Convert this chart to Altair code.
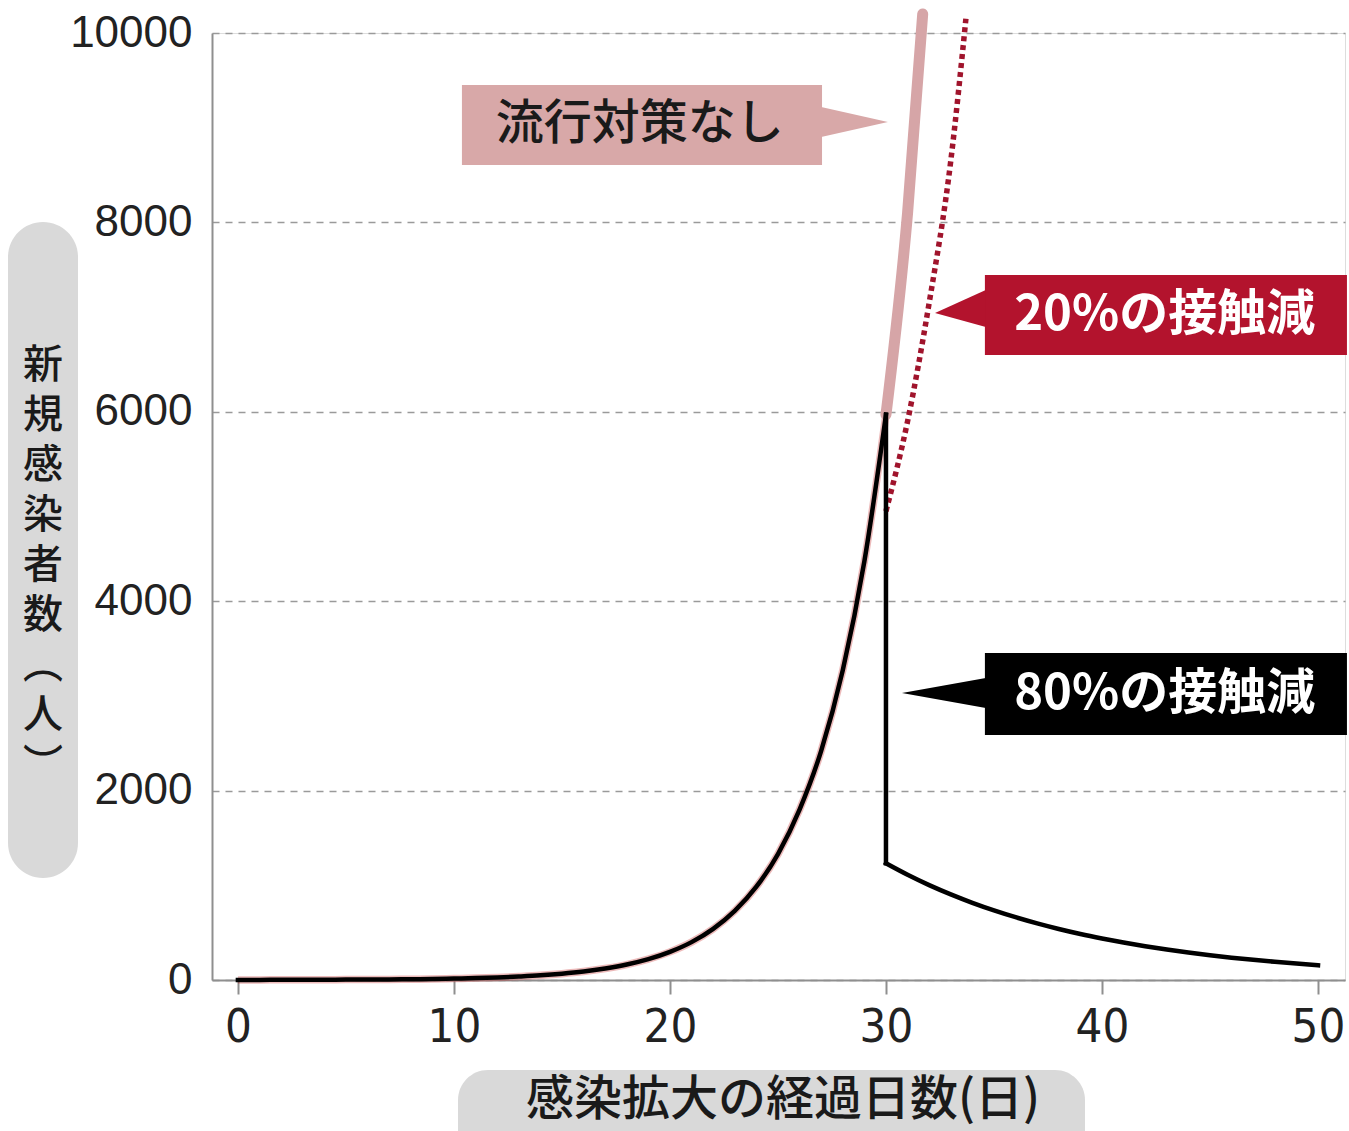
import altair as alt
import pandas as pd

# ---------------- data ----------------
days_rise = list(range(0, 31))
cases_rise = [1, 1, 2, 2, 3, 4, 5, 6, 8, 11, 15, 20, 27, 37, 49, 66, 89, 121, 163,
              220, 297, 400, 540, 730, 985, 1330, 1800, 2420, 3270, 4420, 5970]
days_80 = list(range(30, 51))
cases_80 = [1232, 1111, 1002, 904, 815, 735, 663, 598, 539, 486, 439, 396, 357,
            322, 290, 262, 236, 213, 192, 173, 156]
days_none = [30, 31, 31.7]
cases_none = [5970, 8100, 10200]
days_20 = [30, 31, 32, 33, 33.7]
cases_20 = [4950, 5900, 7150, 8650, 10150]

x_ticks = [0, 10, 20, 30, 40, 50]
y_ticks = [0, 2000, 4000, 6000, 8000, 10000]

label_none = "流行対策なし"
label_20 = "20%の接触減"
label_80 = "80%の接触減"
x_title = "感染拡大の経過日数(日)"
y_title = "新\n規\n感\n染\n者\n数\n︵\n人\n︶"

# ---------------- tables ----------------
df_rise = pd.DataFrame({"day": days_rise, "cases": cases_rise})
df_80 = pd.DataFrame({"day": days_80, "cases": cases_80})
df_drop = pd.DataFrame({"day": [days_80[0]], "top": [cases_rise[-1]], "bottom": [cases_80[0]]})
df_none = pd.DataFrame({"day": days_none, "cases": cases_none})
df_20 = pd.DataFrame({"day": days_20, "cases": cases_20})

# annotation layout (data coordinates)
boxes = pd.DataFrame({
    "x": [10.37, 34.58, 34.58], "x2": [27.04, 51.34, 51.34],
    "y": [9451, 7445, 3453], "y2": [8606, 6600, 2587],
    "c": ["#d8a8a8", "#b3132d", "#000000"],
})
arrows = pd.DataFrame({
    "g": ["a", "a", "b", "b", "c", "c"],
    "x": [27.0, 30.09, 32.27, 34.62, 30.74, 34.62],
    "y": [9219, 9060, 7043, 7286, 3031, 3189],
    "y2": [8902, 9060, 7043, 6895, 3031, 2872],
    "c": ["#d8a8a8", "#d8a8a8", "#b3132d", "#b3132d", "#000000", "#000000"],
})
texts_dark = pd.DataFrame({"x": [18.6], "y": [9029], "t": [label_none]})
texts_light = pd.DataFrame({"x": [42.9, 42.9], "y": [7022, 3020], "t": [label_20, label_80]})

W, H = 1133, 947
xs = alt.Scale(domain=[-1.2, 51.25], nice=False, zero=False)
ys = alt.Scale(domain=[0, 10000], nice=False, zero=False)

X = alt.X("day:Q", scale=xs, axis=alt.Axis(
    values=x_ticks, grid=False, title=None, domainColor="#8f8f8f", domainWidth=2,
    tickColor="#8f8f8f", tickWidth=2, tickSize=14, labelFontSize=47,
    labelFont="Liberation Sans Narrow, DejaVu Sans Condensed, Liberation Sans",
    labelColor="#222222", labelPadding=10, labelFlush=False, format="d"))
Y = alt.Y("cases:Q", scale=ys, axis=alt.Axis(
    values=y_ticks, grid=True, gridDash=[7, 6], gridColor="#9a9a9a", gridWidth=1.6,
    ticks=False, title=None, domainColor="#8f8f8f", domainWidth=2,
    labelFontSize=44, labelFont="Liberation Sans", labelColor="#222222",
    labelPadding=20, format="d"))

base_axes = alt.Chart(df_rise).mark_line(opacity=0).encode(x=X, y=Y)

pink = alt.Chart(df_none).mark_line(color="#d6a5a7", strokeWidth=11, strokeCap="round",
                                    interpolate="monotone").encode(
    x=alt.X("day:Q", scale=xs), y=alt.Y("cases:Q", scale=ys))
dotted = alt.Chart(df_20).mark_line(color="#a0142c", strokeWidth=5.5, strokeDash=[5, 4],
                                    interpolate="monotone").encode(
    x=alt.X("day:Q", scale=xs), y=alt.Y("cases:Q", scale=ys))
halo = alt.Chart(df_rise).mark_line(color="#c83a3a", strokeWidth=7.5, opacity=0.35,
                                    interpolate="monotone").encode(
    x=alt.X("day:Q", scale=xs), y=alt.Y("cases:Q", scale=ys))
black_rise = alt.Chart(df_rise).mark_line(color="#000000", strokeWidth=4.5, strokeCap="square",
                                          interpolate="monotone").encode(
    x=alt.X("day:Q", scale=xs), y=alt.Y("cases:Q", scale=ys))
black_drop = alt.Chart(df_drop).mark_rule(color="#000000", strokeWidth=4.5, strokeCap="square").encode(
    x=alt.X("day:Q", scale=xs), y=alt.Y("top:Q", scale=ys), y2="bottom:Q")
black_decay = alt.Chart(df_80).mark_line(color="#000000", strokeWidth=4.5, strokeCap="square",
                                         interpolate="monotone").encode(
    x=alt.X("day:Q", scale=xs), y=alt.Y("cases:Q", scale=ys))

box_layer = alt.Chart(boxes).mark_rect().encode(
    x=alt.X("x:Q", scale=xs), x2="x2:Q",
    y=alt.Y("y:Q", scale=ys), y2="y2:Q",
    color=alt.Color("c:N", scale=None))
arrow_layer = alt.Chart(arrows).mark_area().encode(
    x=alt.X("x:Q", scale=xs), y=alt.Y("y:Q", scale=ys), y2="y2:Q",
    detail="g:N", color=alt.Color("c:N", scale=None))
text_dark = alt.Chart(texts_dark).mark_text(
    font="Noto Sans CJK JP", fontSize=48, align="center", baseline="middle",
    color="#1a1a1a", fontWeight=500).encode(
    x=alt.X("x:Q", scale=xs), y=alt.Y("y:Q", scale=ys), text="t:N")
text_light = alt.Chart(texts_light).mark_text(
    font="Noto Sans CJK JP", fontSize=49, align="center", baseline="middle",
    color="#ffffff", fontWeight="bold").encode(
    x=alt.X("x:Q", scale=xs), y=alt.Y("y:Q", scale=ys), text="t:N")

# axis-title pills (pixel positions relative to the plot area)
pill_y = alt.Chart(pd.DataFrame({"k": [0]})).mark_rect(color="#d9d9d9", cornerRadius=35).encode(
    x=alt.value(-204), x2=alt.value(-134), y=alt.value(189), y2=alt.value(845))
pill_x = alt.Chart(pd.DataFrame({"k": [0]})).mark_rect(color="#d9d9d9", cornerRadius=30).encode(
    x=alt.value(246), x2=alt.value(873), y=alt.value(1037), y2=alt.value(1130))
title_y = alt.Chart(pd.DataFrame({"t": [y_title]})).mark_text(
    font="Noto Sans CJK JP", fontSize=40, lineBreak="\n", lineHeight=50,
    align="center", baseline="top", color="#1a1a1a", fontWeight=500).encode(
    x=alt.value(-169), y=alt.value(313), text="t:N")
title_x = alt.Chart(pd.DataFrame({"t": [x_title]})).mark_text(
    font="Noto Sans CJK JP", fontSize=48, align="center", baseline="middle",
    color="#1a1a1a", fontWeight=500).encode(
    x=alt.value(571), y=alt.value(1068), text="t:N")

chart = alt.layer(
    base_axes, pill_y, pill_x, title_y, title_x,
    halo, pink, dotted, black_rise, black_drop, black_decay,
    box_layer, arrow_layer, text_dark, text_light,
).properties(
    width=W, height=H,
    autosize=alt.AutoSizeParams(type="none"),
    padding={"left": 212, "top": 33, "right": 4, "bottom": 151},
).configure_view(stroke=None).configure(background="#ffffff")

chart.save("out.html", embed_options={"renderer": "svg", "actions": False})
